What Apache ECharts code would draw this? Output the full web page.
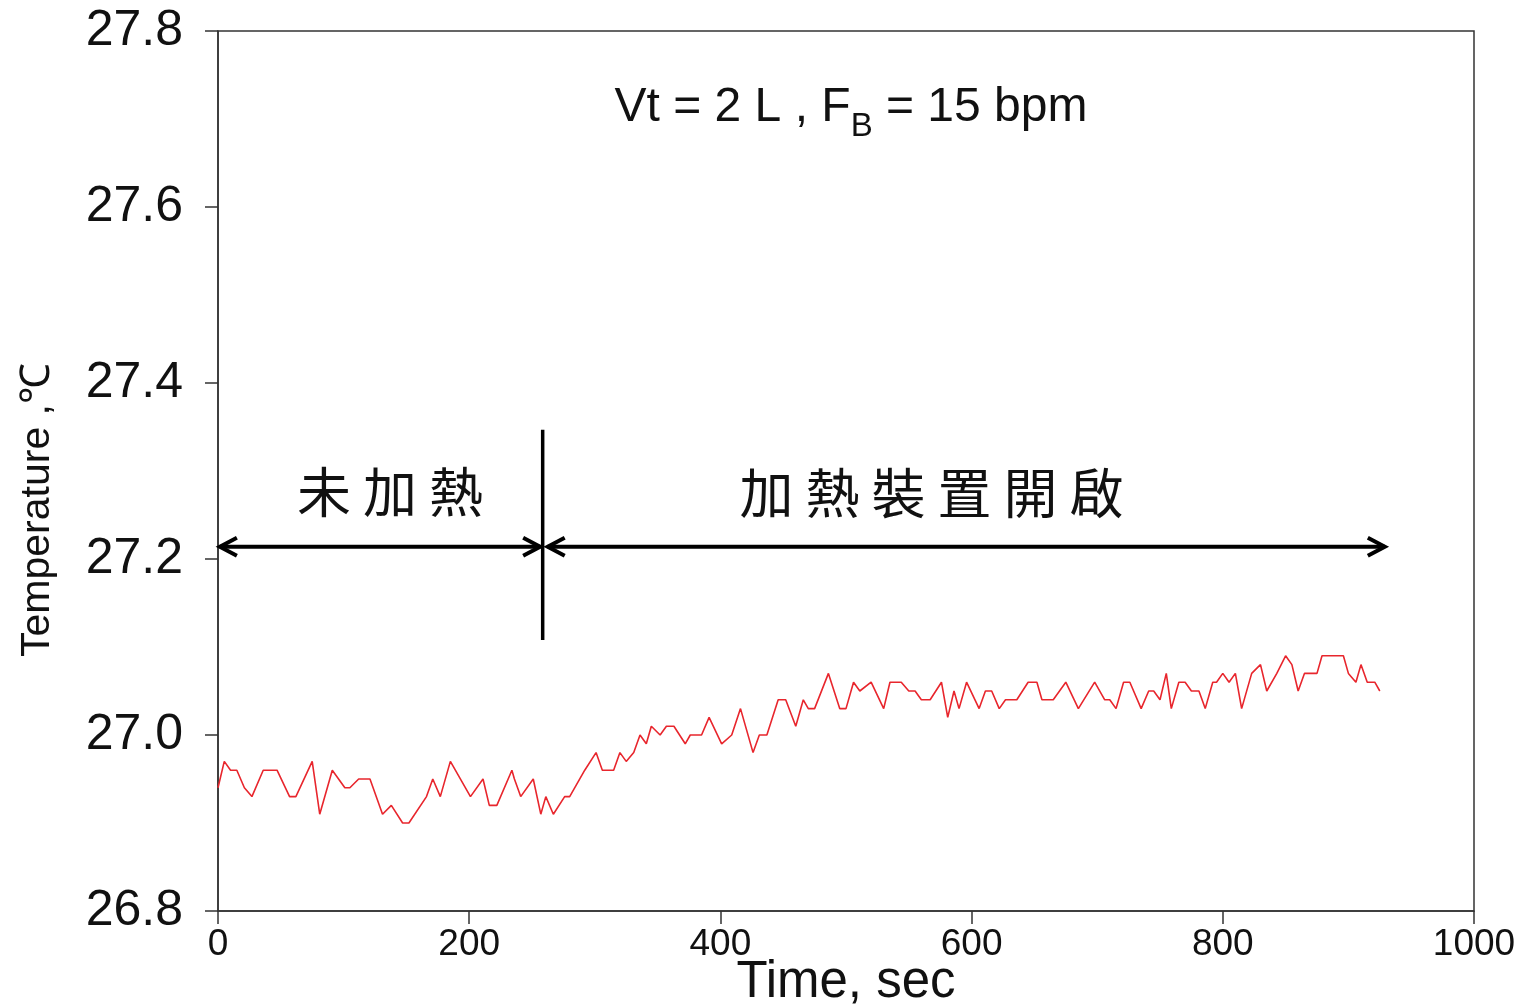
<!DOCTYPE html>
<html><head><meta charset="utf-8">
<script src="https://cdn.jsdelivr.net/npm/echarts@6/dist/echarts.min.js"></script>
<style>html,body{margin:0;padding:0;background:#fff}#c{width:1527px;height:1007px}</style>
</head><body><div id="c"></div>
<script>
// ---- data ----
const timeSec = [0,5,10,15,21,27,36,47,57,62,75,81,91,101,105,112,121,131,138,147,152,166,171,177,185,201,211,216,222,234,236,241,251,257,261,267,276,280,292,301,306,315,320,325,331,336,341,345,352,357,363,372,376,385,391,401,409,416,426,431,437,446,452,460,466,470,475,486,495,500,506,511,520,530,535,544,550,555,560,567,576,581,586,590,596,606,611,616,622,627,636,645,652,656,665,675,685,698,706,710,715,721,726,735,741,745,750,755,759,765,770,775,781,786,792,795,800,805,810,815,823,830,835,843,850,855,860,865,875,879,896,900,906,910,915,921,925];
const tempC = [26.94,26.97,26.96,26.96,26.94,26.93,26.96,26.96,26.93,26.93,26.97,26.91,26.96,26.94,26.94,26.95,26.95,26.91,26.92,26.90,26.90,26.93,26.95,26.93,26.97,26.93,26.95,26.92,26.92,26.96,26.95,26.93,26.95,26.91,26.93,26.91,26.93,26.93,26.96,26.98,26.96,26.96,26.98,26.97,26.98,27.00,26.99,27.01,27.00,27.01,27.01,26.99,27.00,27.00,27.02,26.99,27.00,27.03,26.98,27.00,27.00,27.04,27.04,27.01,27.04,27.03,27.03,27.07,27.03,27.03,27.06,27.05,27.06,27.03,27.06,27.06,27.05,27.05,27.04,27.04,27.06,27.02,27.05,27.03,27.06,27.03,27.05,27.05,27.03,27.04,27.04,27.06,27.06,27.04,27.04,27.06,27.03,27.06,27.04,27.04,27.03,27.06,27.06,27.03,27.05,27.05,27.04,27.07,27.03,27.06,27.06,27.05,27.05,27.03,27.06,27.06,27.07,27.06,27.07,27.03,27.07,27.08,27.05,27.07,27.09,27.08,27.05,27.07,27.07,27.09,27.09,27.07,27.06,27.08,27.06,27.06,27.05];
const xTickValues = [0,200,400,600,800,1000];
const yTickLabels = ['26.8','27.0','27.2','27.4','27.6','27.8'];
// annotations in data coordinates: [x1, y1, x2, y2, arrowHeads(0/1)]
const dividerLine = [258.5, 27.108, 258.5, 27.347, 0];
const arrowBefore = [1.5, 27.214, 256.5, 27.214, 1];
const arrowAfter = [262.5, 27.214, 929, 27.214, 1];
const phaseLabels = ['未加熱', '加熱裝置開啟'];
const phaseLabelPos = [[137, 27.276], [568, 27.275]];

const seriesData = timeSec.map((t, i) => [t, tempC[i]]);
const arrowData = [dividerLine, arrowBefore, arrowAfter];
const labelData = phaseLabelPos.map((p, i) => [p[0], p[1], i]);

const chart = echarts.init(document.getElementById('c'), null, {renderer: 'canvas'});
const axisColor = '#333';
const latin = "'Liberation Sans', Arial, sans-serif";
const cjk = "'Noto Sans CJK TC', sans-serif";

function chevron(tip, dir, len, half) {
  const nx = -dir[1], ny = dir[0];
  return [
    [tip[0] - dir[0]*len + nx*half, tip[1] - dir[1]*len + ny*half],
    [tip[0], tip[1]],
    [tip[0] - dir[0]*len - nx*half, tip[1] - dir[1]*len - ny*half]
  ];
}

chart.setOption({
  animation: false,
  backgroundColor: '#fff',
  title: {
    text: '{a|Vt = 2 L , F}{b|B}{a| = 15 bpm}',
    left: 846, top: 68, textAlign: 'center',
    textStyle: {
      fontWeight: 'normal',
      rich: {
        a: {fontSize: 48, fontFamily: latin, fontWeight: 'normal', color: '#111', lineHeight: 70, verticalAlign: 'middle'},
        b: {fontSize: 33, fontFamily: latin, fontWeight: 'normal', color: '#111', lineHeight: 32, verticalAlign: 'bottom'}
      }
    }
  },
  grid: {left: 218, top: 31, right: 53, bottom: 96, show: true, borderColor: axisColor, borderWidth: 1.5, outerBoundsMode: 'none', containLabel: false},
  xAxis: {
    type: 'value', min: 0, max: 1000, interval: 200,
    name: 'Time, sec', nameLocation: 'middle', nameGap: 46, nameMoveOverlap: false,
    nameTextStyle: {fontSize: 51, fontFamily: latin, color: '#111'},
    axisLine: {lineStyle: {color: axisColor, width: 1.5}},
    axisTick: {length: 13, lineStyle: {color: axisColor, width: 1.5}},
    splitLine: {show: false},
    axisLabel: {fontSize: 37, fontFamily: latin, color: '#111', margin: 15,
      formatter: v => xTickValues.includes(v) ? String(v) : ''}
  },
  yAxis: {
    type: 'value', min: 26.8, max: 27.8, interval: 0.2,
    name: 'Temperature ,℃', nameLocation: 'middle', nameGap: 160, nameMoveOverlap: false,
    nameTextStyle: {fontSize: 41, fontFamily: latin, color: '#111', padding: [0, 78, 0, 0]},
    axisLine: {lineStyle: {color: axisColor, width: 1.5}},
    axisTick: {length: 13, lineStyle: {color: axisColor, width: 1.5}},
    splitLine: {show: false},
    axisLabel: {fontSize: 50, fontFamily: latin, color: '#111', margin: 35,
      formatter: v => yTickLabels[Math.round((v - 26.8) / 0.2)] || ''}
  },
  series: [
    {
      type: 'line', data: seriesData, showSymbol: false, symbol: 'none',
      lineStyle: {color: '#e8262d', width: 1.6}, z: 3
    },
    {
      type: 'custom', data: arrowData, clip: false, z: 4,
      encode: {x: 0, y: 1},
      renderItem: (params, api) => {
        const p1 = api.coord([api.value(0), api.value(1)]);
        const p2 = api.coord([api.value(2), api.value(3)]);
        const heads = api.value(4);
        const dx = p2[0] - p1[0], dy = p2[1] - p1[1];
        const L = Math.sqrt(dx*dx + dy*dy) || 1;
        const d = [dx/L, dy/L];
        const children = [{
          type: 'line', shape: {x1: p1[0], y1: p1[1], x2: p2[0], y2: p2[1]},
          style: {stroke: '#000', lineWidth: heads ? 4 : 3.5}
        }];
        if (heads) {
          children.push({type: 'polyline', shape: {points: chevron(p2, d, 17, 9)}, style: {stroke: '#000', lineWidth: 4, fill: null}});
          children.push({type: 'polyline', shape: {points: chevron(p1, [-d[0], -d[1]], 17, 9)}, style: {stroke: '#000', lineWidth: 4, fill: null}});
        }
        return {type: 'group', children};
      }
    },
    {
      type: 'custom', data: labelData, clip: false, z: 4,
      encode: {x: 0, y: 1},
      renderItem: (params, api) => {
        const c = api.coord([api.value(0), api.value(1)]);
        const txt = phaseLabels[api.value(2)];
        const fs = 54, pitch = 66;
        const n = txt.length;
        const children = [];
        for (let i = 0; i < n; i++) {
          children.push({
            type: 'text',
            style: {text: txt[i], x: c[0] + (i - (n - 1) / 2) * pitch, y: c[1],
              align: 'center', verticalAlign: 'middle', fontSize: fs, fontFamily: cjk, fill: '#111'}
          });
        }
        return {type: 'group', children};
      }
    }
  ]
});
</script></body></html>
